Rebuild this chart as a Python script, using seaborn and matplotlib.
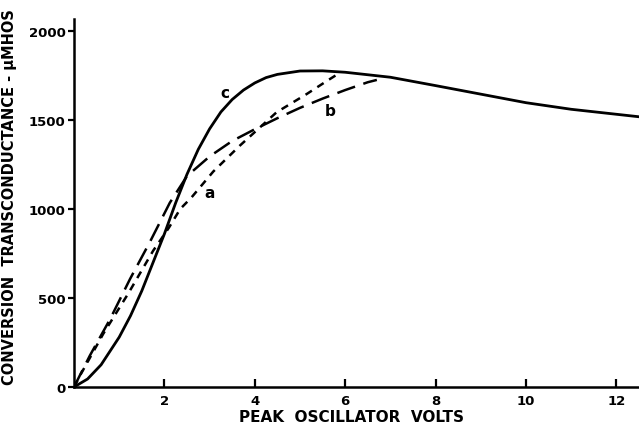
import pandas as pd
import matplotlib
matplotlib.use("Agg")
import matplotlib.pyplot as plt
import seaborn as sns

# curve c (solid)
c_volts = [0, 0.3, 0.6, 1.0, 1.25, 1.5, 1.75, 2.0, 2.25, 2.5, 2.75, 3.0, 3.25, 3.5, 3.75,
           4.0, 4.25, 4.5, 5.0, 5.5, 6.0, 7.0, 8.0, 9.0, 10.0, 11.0, 12.0, 12.5]
c_gm = [0, 45, 125, 280, 400, 540, 700, 860, 1035, 1195, 1335, 1450, 1545, 1615, 1668,
        1708, 1738, 1756, 1775, 1776, 1768, 1740, 1693, 1645, 1597, 1560, 1532, 1518]

# curve a (short dashes)
a_volts = [0, 0.13, 0.65, 1.2, 1.75, 2.1, 2.35, 2.6, 3.08, 3.67, 4.0, 4.48, 5.15, 5.6, 5.9]
a_gm = [0, 63, 300, 525, 765, 895, 1000, 1065, 1210, 1356, 1432, 1543, 1646, 1720, 1768]

# curve b (long dashes)
b_volts = [0, 0.35, 0.8, 1.24, 1.68, 2.12, 2.5, 3.0, 3.5, 4.0, 4.5, 5.0, 5.5, 6.0, 6.5, 6.7]
b_gm = [0, 176, 382, 607, 815, 1035, 1185, 1295, 1382, 1448, 1510, 1568, 1620, 1668, 1712, 1725]

x_ticks = [2, 4, 6, 8, 10, 12]
y_ticks = [0, 500, 1000, 1500, 2000]

sns.set_style("ticks")
plt.rcParams["font.family"] = ["DejaVu Sans"]
plt.rcParams["text.color"] = "black"
plt.rcParams["xtick.color"] = "black"
plt.rcParams["ytick.color"] = "black"
plt.rcParams["axes.labelcolor"] = "black"
plt.rcParams["axes.edgecolor"] = "black"

fig = plt.figure(figsize=(6.39, 4.27), dpi=100)
ax = fig.add_axes([0.1158, 0.0913, 0.8842, 0.8618])

df_c = pd.DataFrame({"volts": c_volts, "gm": c_gm})
df_a = pd.DataFrame({"volts": a_volts, "gm": a_gm})
df_b = pd.DataFrame({"volts": b_volts, "gm": b_gm})

sns.lineplot(data=df_c, x="volts", y="gm", ax=ax, color="black", lw=2.0, sort=False)
sns.lineplot(data=df_a, x="volts", y="gm", ax=ax, color="black", lw=1.8,
             sort=False, linestyle=(0, (3, 2.6)))
sns.lineplot(data=df_b, x="volts", y="gm", ax=ax, color="black", lw=1.8,
             sort=False, linestyle=(0, (7.5, 3.5)))

ax.text(3.34, 1656, "c", fontsize=11, fontweight="bold", ha="center", va="center")
ax.text(3.0, 1095, "a", fontsize=11, fontweight="bold", ha="center", va="center")
ax.text(5.66, 1552, "b", fontsize=11, fontweight="bold", ha="center", va="center")

ax.set_xlim(0, 12.5)
ax.set_ylim(0, 2067)
ax.set_xticks(x_ticks)
ax.set_yticks(y_ticks)
ax.set_xticklabels([str(t) for t in x_ticks], fontsize=9.5, fontweight="bold")
ax.set_yticklabels([str(t) for t in y_ticks], fontsize=9.5, fontweight="bold")
ax.tick_params(axis="x", direction="in", length=6, width=1.6, pad=5)
ax.tick_params(axis="y", direction="out", length=4, width=1.6, pad=2)

for side in ["top", "right"]:
    ax.spines[side].set_visible(False)
for side in ["left", "bottom"]:
    ax.spines[side].set_linewidth(1.8)

ax.set_xlabel("PEAK  OSCILLATOR  VOLTS", fontsize=11, fontweight="bold")
ax.set_ylabel("CONVERSION  TRANSCONDUCTANCE - \u03bcMHOS", fontsize=10.5, fontweight="bold")
ax.xaxis.set_label_coords(0.492, -0.06)
ax.yaxis.set_label_coords(-0.1, 0.52)

fig.savefig("out.png", dpi=100)
